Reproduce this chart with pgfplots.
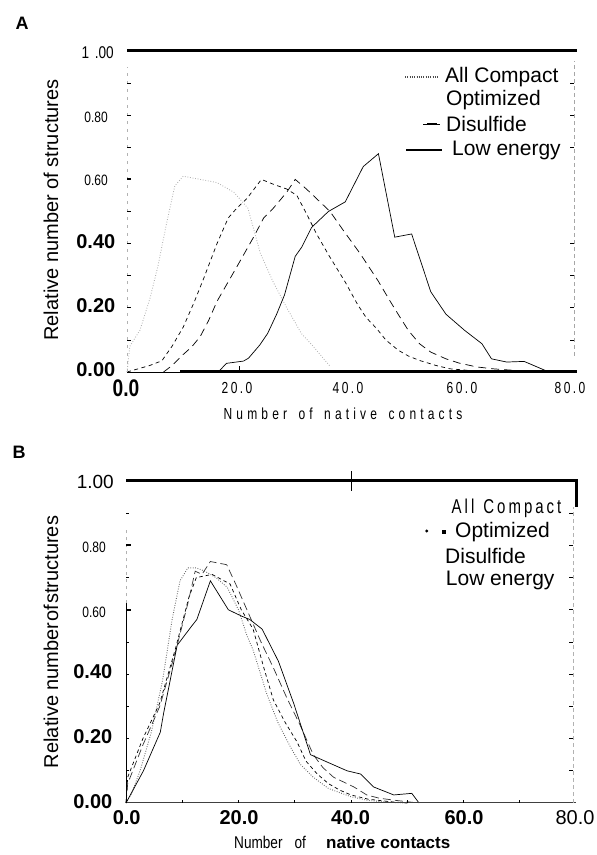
\documentclass[border=0pt]{standalone}
\usepackage{fontspec}
\setmainfont{Liberation Sans}
\newfontfamily\cond{Liberation Sans}[FakeStretch=0.8]
\newfontfamily\condsp{Liberation Sans}[FakeStretch=0.75,LetterSpace=15]
\newfontfamily\condwide{Liberation Sans}[FakeStretch=0.75,LetterSpace=26]
\usepackage{pgfplots}
\pgfplotsset{compat=1.18}
\newcommand{\fs}[1]{\fontsize{#1}{#1}\selectfont}
\begin{document}
\begin{tikzpicture}
\useasboundingbox (0pt,0pt) rectangle (597pt,855pt);
% ================= Panel A =================
\begin{axis}[name=A, at={(127pt,483pt)}, anchor=south west, scale only axis,
  width=450pt, height=321pt, xmin=0, xmax=80, ymin=0, ymax=1, hide axis, clip=false]
\addplot[black!30, line width=0.9pt, dash pattern=on 0.8pt off 1.8pt] coordinates {
(0,0) (0.5,0.08) (2.3,0.13) (4.1,0.23) (5.5,0.33) (7,0.46) (8.5,0.58) (10,0.61) (13,0.6) (16,0.59) (19,0.56) (21.5,0.51) (23.7,0.37) (26,0.28) (28.4,0.2) (31,0.12) (33.1,0.08) (35.5,0.03) (36,0.02)};
\addplot[black, line width=0.7pt, dash pattern=on 4pt off 3.5pt] coordinates {
(0,0) (2,0.01) (4,0.02) (6.2,0.035) (8,0.08) (10,0.14) (12,0.22) (13.6,0.29) (16,0.4) (18,0.48) (19.5,0.51) (21.3,0.54) (23.9,0.6) (26,0.585) (28.4,0.57) (30.2,0.55) (32,0.49) (33.7,0.43) (36,0.36) (38.8,0.28) (41,0.21) (42.5,0.17) (44.4,0.135) (46,0.1) (48.2,0.068) (50,0.05) (52,0.036) (55,0.02) (57.4,0.01) (62,0.003) (65,0)};
\addplot[black, line width=0.7pt, dash pattern=on 8pt off 5pt] coordinates {
(6.5,0) (8,0.02) (9.7,0.05) (11.5,0.078) (13,0.11) (14.5,0.16) (16,0.22) (19.6,0.33) (22.5,0.42) (24.3,0.48) (26,0.51) (28.4,0.56) (29.9,0.6) (31.9,0.57) (34,0.535) (36.1,0.5) (38.5,0.44) (41.4,0.37) (44.6,0.285) (46.8,0.22) (48.2,0.18) (50,0.13) (52,0.088) (54,0.062) (56.7,0.041) (59,0.028) (62.1,0.016) (65,0.01) (68.9,0.005) (72,0)};
\addplot[black, line width=0.7pt] coordinates {
(16.2,0) (17.7,0.027) (20.7,0.034) (21.6,0.043) (23.6,0.084) (25,0.12) (26.6,0.18) (28,0.24) (29.9,0.36) (31.1,0.39) (32.8,0.45) (35.8,0.5) (38.8,0.53) (42,0.64) (44.7,0.68) (47.6,0.42) (50.6,0.43) (54,0.25) (56.7,0.18) (60,0.13) (63.1,0.088) (64.8,0.041) (67.5,0.031) (70.6,0.033) (74.6,0.003)};
% frame
\draw[line width=3pt] (axis cs:0,1) -- (axis cs:80,1);
\draw[line width=3pt] (axis cs:9.5,0) -- (axis cs:80,0);
\draw[line width=0.6pt] (axis cs:0,0) -- (axis cs:9.5,0);
\draw[line width=0.8pt] (axis cs:20,0) -- ++(0,6pt);
\draw[gray!60, line width=0.5pt, dash pattern=on 3pt off 5pt] (axis cs:0,0) -- (axis cs:0,0.95);
\pgfplotsinvokeforeach{0.1,0.2,0.3,0.4,0.5,0.7,0.8,0.9}{\draw[line width=0.7pt] (axis cs:0,#1) -- ++(4pt,0);}
\draw[line width=2pt] (axis cs:0,0.6) -- ++(4pt,0);
\draw[gray!70, line width=0.5pt, dash pattern=on 4pt off 3pt] (axis cs:79.5,0.05) -- (axis cs:79.5,0.97);
\pgfplotsinvokeforeach{0.1,0.2,0.3,0.4,0.7,0.8,0.9}{\draw[line width=0.6pt] (axis cs:79.5,#1) -- ++(-4pt,0);}
\end{axis}
% A labels
\node[font=\bfseries\fs{18}, inner sep=0] at (22pt,832pt) {A};
\node[rotate=90, font=\fs{20}, inner sep=0] at (51pt,645pt) {Relative number of structures};
\node[anchor=east, font=\cond\fs{17}, inner sep=0] at (114pt,802pt) {1\,\,.00};
\node[anchor=east, font=\cond\fs{15}, inner sep=0] at (108pt,738pt) {0.80};
\node[anchor=east, font=\cond\fs{15}, inner sep=0] at (108pt,675pt) {0.60};
\node[anchor=east, font=\bfseries\fs{20}, inner sep=0] at (115.5pt,613pt) {0.40};
\node[anchor=east, font=\bfseries\fs{20}, inner sep=0] at (115.5pt,549pt) {0.20};
\node[anchor=east, font=\bfseries\fs{20}, inner sep=0] at (115.5pt,485pt) {0.00};
\node[font=\bfseries\cond\fs{24}, inner sep=0] at (126pt,467pt) {0.0};
\node[font=\condsp\fs{16}, inner sep=0] at (237pt,467pt) {20.0};
\node[font=\condsp\fs{16}, inner sep=0] at (348pt,467pt) {40.0};
\node[font=\condsp\fs{16}, inner sep=0] at (462pt,467pt) {60.0};
\node[font=\condsp\fs{16}, inner sep=0] at (570pt,467pt) {80.0};
\node[font=\condwide\fs{16}, inner sep=0] at (343pt,441pt) {Number\hspace{4pt} of\hspace{4pt} native\hspace{4pt} contacts};
% A legend
\node[anchor=west, font=\fs{21}, inner sep=0] at (445pt,778pt) {All Compact};
\node[anchor=west, font=\fs{21}, inner sep=0] at (446pt,755pt) {Optimized};
\node[anchor=west, font=\fs{21}, inner sep=0] at (446pt,731pt) {Disulfide};
\node[anchor=west, font=\fs{21}, inner sep=0] at (452pt,705pt) {Low energy};
\draw[black!70, line width=1.2pt, dash pattern=on 0.8pt off 1.5pt] (405pt,778pt) -- (439pt,778pt);
\draw[line width=0.6pt] (423pt,731pt) -- (440pt,731pt);
\draw[line width=2.2pt] (427pt,731pt) -- (437pt,731pt);
\draw[line width=2.2pt] (406pt,705pt) -- (442pt,705pt);
% ================= Panel B =================
\begin{axis}[name=B, at={(126pt,52pt)}, anchor=south west, scale only axis,
  width=450pt, height=322pt, xmin=0, xmax=80, ymin=0, ymax=1, hide axis, clip=false]
\addplot[black!60, line width=0.9pt, dash pattern=on 0.8pt off 1.6pt] coordinates {
(0,0) (1,0.03) (2.5,0.1) (4.5,0.22) (6.5,0.38) (8.2,0.57) (9.6,0.69) (11,0.73) (12.5,0.73) (14,0.72) (16,0.7) (18,0.67) (20,0.6) (21.5,0.52) (22.6,0.475) (25,0.34) (27,0.25) (29.2,0.175) (31,0.12) (33.3,0.08) (36,0.045) (39.9,0.02) (43,0.008) (47,0.002) (50,0)};
\addplot[black, line width=0.7pt, dash pattern=on 3.5pt off 3pt] coordinates {
(0,0) (0.3,0.08) (3,0.2) (6,0.31) (8.8,0.48) (11.2,0.64) (12.5,0.7) (15.3,0.71) (18.5,0.68) (20.5,0.6) (22.6,0.54) (24.5,0.42) (26.2,0.32) (28.3,0.25) (30.4,0.19) (32,0.13) (34,0.09) (36,0.06) (38,0.04) (40,0.025) (43,0.012) (47,0.004) (50,0)};
\addplot[black!80, line width=0.7pt, dash pattern=on 8pt off 4pt] coordinates {
(0,0) (0.3,0.06) (3,0.18) (6,0.3) (8.8,0.47) (11,0.62) (12.3,0.72) (13.5,0.71) (15,0.75) (17.9,0.74) (19.5,0.68) (21.5,0.6) (24,0.5) (26.2,0.42) (28.5,0.33) (31,0.24) (33.3,0.15) (35,0.11) (36.9,0.08) (40.5,0.05) (42.8,0.025) (45,0.015) (48,0.008) (52,0)};
\addplot[black, line width=0.7pt] coordinates {
(0,0) (3.1,0.1) (6.1,0.22) (6.7,0.28) (9.1,0.49) (11.7,0.55) (12.6,0.57) (15,0.69) (18.2,0.6) (20.6,0.58) (22,0.57) (24.2,0.54) (27.1,0.44) (29.8,0.31) (32.8,0.15) (36.3,0.123) (39.3,0.1) (41.7,0.09) (44,0.05) (47.6,0.025) (50.8,0.03) (52.1,0)};
% frame
\draw[line width=3pt] (axis cs:0,1) -- (axis cs:80,1);
\draw[line width=3pt] (axis cs:80,1.005) -- (axis cs:80,0.92);
\draw[line width=1pt] (axis cs:40,0.97) -- (axis cs:40,1.03);
\draw[black!75, line width=1pt] (axis cs:0,0) -- (axis cs:80,0);
\pgfplotsinvokeforeach{10,20,30,40,50,60,70}{\draw[line width=0.6pt] (axis cs:#1,0) -- ++(0,3pt);}
\draw[line width=0.8pt] (axis cs:0,0) -- (axis cs:0,0.62);
\draw[gray!60, line width=0.5pt, dash pattern=on 3pt off 4pt] (axis cs:0,0.62) -- (axis cs:0,0.85);
\pgfplotsinvokeforeach{0.1,0.2,0.3,0.4,0.5,0.7,0.9}{\draw[line width=0.6pt] (axis cs:0,#1) -- ++(3pt,0);}
\draw[line width=1.8pt] (axis cs:0,0.8) -- ++(5pt,0);
\draw[line width=1.8pt] (axis cs:0,0.6) -- ++(5pt,0);
\draw[gray!60, line width=0.5pt, dash pattern=on 4pt off 3pt] (axis cs:79.5,0) -- (axis cs:79.5,0.92);
\pgfplotsinvokeforeach{0.1,0.2,0.3,0.4,0.5,0.6,0.7,0.8,0.9}{\draw[line width=0.6pt] (axis cs:79.5,#1) -- ++(-4pt,0);}
\end{axis}
% B labels
\node[font=\bfseries\fs{18}, inner sep=0] at (19pt,403pt) {B};
\node[rotate=90, font=\fs{20}, inner sep=0] at (51pt,213pt) {Relative number\hspace{1pt}of\hspace{1pt}structures};
\node[anchor=east, font=\fs{19}, inner sep=0] at (114pt,373pt) {1.00};
\node[anchor=east, font=\cond\fs{15}, inner sep=0] at (106pt,308pt) {0.80};
\node[anchor=east, font=\cond\fs{15}, inner sep=0] at (106pt,243pt) {0.60};
\node[anchor=east, font=\bfseries\fs{20}, inner sep=0] at (112.5pt,183pt) {0.40};
\node[anchor=east, font=\bfseries\fs{20}, inner sep=0] at (112.5pt,118pt) {0.20};
\node[anchor=east, font=\bfseries\fs{20}, inner sep=0] at (112.5pt,53pt) {0.00};
\node[font=\bfseries\fs{20}, inner sep=0] at (126.7pt,37pt) {0.0};
\node[font=\bfseries\fs{20}, inner sep=0] at (239pt,37pt) {20.0};
\node[font=\bfseries\fs{20}, inner sep=0] at (350.5pt,37pt) {40.0};
\node[font=\bfseries\fs{20}, inner sep=0] at (464pt,37pt) {60.0};
\node[font=\fs{20}, inner sep=0] at (575pt,37pt) {80.0};
\node[anchor=west, font=\cond\fs{17}, inner sep=0] at (234pt,13pt) {Number\hspace{12pt}of};
\node[anchor=west, font=\bfseries\fs{17}, inner sep=0] at (326pt,13pt) {native\hspace{5pt}contacts};
% B legend
\node[anchor=west, font=\condsp\fs{20}, inner sep=0] at (451.5pt,347pt) {All\hspace{9pt}Compact};
\node[anchor=west, font=\fs{21}, inner sep=0] at (455pt,323pt) {Optimized};
\node[anchor=west, font=\fs{21}, inner sep=0] at (445pt,299pt) {Disulfide};
\node[anchor=west, font=\fs{21}, inner sep=0] at (445.7pt,275pt) {Low energy};
\fill (426.7pt,324pt) circle (1.6pt);
\fill (441.8pt,321pt) rectangle (446pt,325pt);
\end{tikzpicture}
\end{document}
